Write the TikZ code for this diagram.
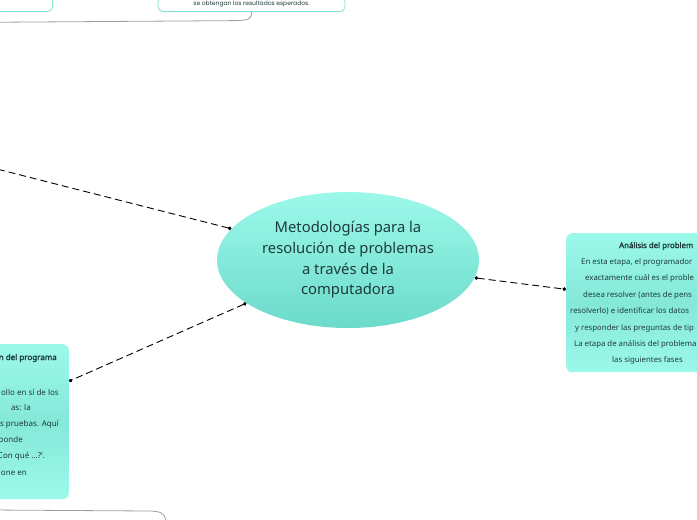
\documentclass[tikz,border=0pt]{standalone}
\usepackage{fontspec}
\setmainfont{Noto Sans}[AutoFakeBold=2]
\newfontfamily\topfont{Poppins}
\usetikzlibrary{arrows.meta,shapes.geometric}
\definecolor{aqualight}{HTML}{9CF9EA}
\definecolor{aquamid}{HTML}{84E8D8}
\definecolor{aquadark}{HTML}{6CDACA}
\definecolor{aquaedge}{HTML}{86E3D3}
\definecolor{inktext}{HTML}{1E3B3B}
\begin{document}
\begin{tikzpicture}[x=1pt,y=-1pt]
		\useasboundingbox (0,0) rectangle (697,520);
		\begin{scope}[every node/.style={draw=aquaedge, fill=white, rounded corners=5pt, line width=0.8pt}]
			\node (T1)[anchor=south east, minimum width=120pt, minimum height=30pt] at (53,12) {};
			\node (T2)[anchor=south, minimum width=187pt, inner ysep=4pt, font=\topfont\fontsize{6}{7}\selectfont, text=inktext] at (251.5,12) {se obtengan los resultados esperados.};
		\end{scope}
		\begin{scope}[every node/.style={rounded corners=6pt, top color=aqualight, bottom color=aqualight, middle color=aquamid}]
			\node (analisis)[anchor=north west, minimum width=190pt, minimum height=139pt] at (566,233) {};
			\node (programa)[anchor=north east, minimum width=200pt, minimum height=155pt] at (69,344) {};
		\end{scope}
		\node (meta)[ellipse, minimum width=262pt, minimum height=136pt, top color=aqualight, bottom color=aquadark, align=center, text=inktext, font=\fontsize{14.8}{20.7}\selectfont] at (348,260) {Metodologías para la\\resolución de problemas\\a través de la\\computadora};
		\begin{scope}[every node/.style={anchor=west, inner sep=0pt, text=inktext, font=\fontsize{7.8}{9}\selectfont}]
			\node (R0) at (619,246) {\bfseries Análisis del problem};
			\node (R1) at (581,262.4) {En esta etapa, el programador};
			\node (R2) at (585,278.8) {exactamente cuál es el proble};
			\node (R3) at (583,295.2) {desea resolver (antes de pens};
			\node (R4) at (570,311.6) {resolverlo) e identificar los datos};
			\node (R5) at (575,328) {y responder las preguntas de tip};
			\node (R6) at (574,344.4) {La etapa de análisis del problema};
			\node (R7) at (612,360.8) {las siguientes fases};
		\end{scope}
		\begin{scope}[every node/.style={anchor=east, inner sep=0pt, text=inktext, font=\fontsize{8}{9}\selectfont}]
			\node (L0) at (57,358) {\bfseries n del programa};
			\node (L1) at (59,392) {ollo en sí de los};
			\node (L2) at (31,408) {as: la};
			\node (L3) at (59,424) {s pruebas. Aquí};
			\node (L4) at (23,440) {ponde};
			\node (L5) at (45,456) {Con qué ...?'.};
			\node (L6) at (27,473) {one en};
		\end{scope}
		\coordinate (offleft) at (-40,159.6);
		\coordinate (offtop) at (-10,22.3);
		\coordinate (offbot) at (-10,510);
		\coordinate (belowbot) at (166,526);
		\begin{scope}[every edge/.style={draw, line width=0.9pt, dash pattern=on 7pt off 4pt}]
			\path [{Circle[length=3.5pt]}-] (meta.165.6) edge (offleft);
			\path [{Circle[length=3.5pt]}-{Circle[length=3.5pt]}] (meta.203.2) edge (programa.22.6);
			\path [{Circle[length=3.5pt]}-{Circle[length=3.5pt]}] (meta.352) edge (analisis.172.7);
		\end{scope}
		\begin{scope}[every path/.style={draw=gray!75, line width=0.8pt}]
			\path (T2.south) .. controls (252,19) and (248,20.3) .. (236,20.6) -- (offtop);
			\path (offbot) -- (150,511) .. controls (162,511.5) and (166,513) .. (belowbot);
		\end{scope}
	\end{tikzpicture}
\end{document}
